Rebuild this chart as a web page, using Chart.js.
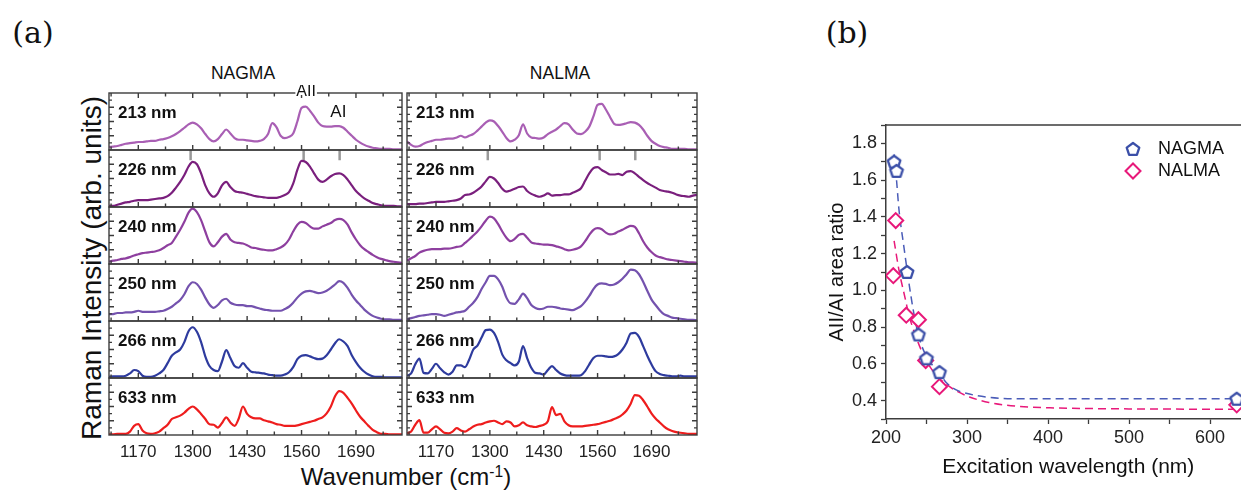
<!DOCTYPE html>
<html>
<head>
<meta charset="utf-8">
<script src="https://cdn.jsdelivr.net/npm/chart.js@4.4.1/dist/chart.umd.min.js"></script>
<style>
  html, body { margin: 0; padding: 0; background: #fff; overflow: hidden; width: 1241px; height: 491px; }
  body { position: relative; font-family: "Liberation Sans", Arial, sans-serif; color: #111; }
  canvas { position: absolute; }
  .txt { position: absolute; white-space: nowrap; line-height: 1; transform: translate(-50%, -50%); }
  .tag { font-family: "DejaVu Serif", serif; font-size: 30px; }
  .col { font-size: 17.5px; }
</style>
</head>
<body>
<div class="txt tag" style="left:33px; top:33px">(a)</div>
<div class="txt tag" style="left:847px; top:33px">(b)</div>
<div class="txt col" style="left:243px; top:74px">NAGMA</div>
<div class="txt col" style="left:560px; top:74px">NALMA</div>
<div class="txt" style="left:92px; top:268px; font-size:28px; transform:translate(-50%,-50%) rotate(-90deg)">Raman Intensity (arb. units)</div>
<div class="txt" style="left:406px; top:477px; font-size:24px">Wavenumber (cm<span style="font-size:0.65em; position:relative; top:-0.5em">-1</span>)</div>

<canvas id="chartNagma" width="310" height="390" style="left:100px; top:85px"></canvas>
<canvas id="chartNalma" width="310" height="390" style="left:400px; top:85px"></canvas>
<canvas id="chartRatio" width="470" height="391" style="left:790px; top:100px"></canvas>

<script>
const FONT = '"Liberation Sans", Arial, sans-serif'
const FRAME_COLOR = '#3c3c3c'

// panel (a): Raman spectra, one value per wavenumber, 0-100 inside each strip
const WAVENUMBER = [1100, 1110, 1120, 1130, 1140, 1150, 1160, 1170, 1180, 1190,
  1200, 1210, 1220, 1230, 1240, 1250, 1260, 1270, 1280, 1290,
  1300, 1310, 1320, 1330, 1340, 1350, 1360, 1370, 1380, 1390,
  1400, 1410, 1420, 1430, 1440, 1450, 1460, 1470, 1480, 1490,
  1500, 1510, 1520, 1530, 1540, 1550, 1560, 1570, 1580, 1590,
  1600, 1610, 1620, 1630, 1640, 1650, 1660, 1670, 1680, 1690,
  1700, 1710, 1720, 1730, 1740, 1750, 1760, 1770, 1780, 1790, 1800]
const X_TICKS = [1170, 1300, 1430, 1560, 1690]
const X_MINOR_TICKS = [1105, 1235, 1365, 1495, 1625, 1755]
const EXCITATION = ['213 nm', '226 nm', '240 nm', '250 nm', '266 nm', '633 nm']
const SPECTRUM_COLORS = ['#a95fb4', '#7a1f7d', '#8e3f9f', '#7452ae', '#2e3b9e', '#ee1d1d']
const PEAK_MARKS = [1295, 1565, 1651]

const nagma213 = [5, 6, 7, 9, 11, 12, 13, 14, 14, 15,
  16, 16, 18, 19, 21, 24, 28, 33, 39, 45,
  48, 45, 38, 28, 19, 15, 19, 28, 36, 29,
  21, 18, 18, 17, 16, 15, 16, 19, 28, 47,
  40, 25, 21, 23, 29, 50, 74, 76, 69, 59,
  48, 42, 41, 41, 42, 42, 39, 32, 25, 18,
  13, 9, 6, 4, 3, 2, 2, 2, 1, 1, 1]
const nagma226 = [2, 2, 4, 6, 8, 9, 11, 12, 12, 12,
  13, 14, 15, 16, 19, 25, 34, 44, 56, 71,
  79, 75, 59, 38, 24, 18, 24, 38, 44, 35,
  28, 26, 25, 23, 21, 19, 18, 17, 16, 16,
  16, 18, 21, 26, 41, 65, 81, 79, 71, 59,
  48, 44, 48, 54, 58, 59, 56, 48, 38, 28,
  21, 15, 11, 7, 5, 3, 2, 2, 2, 1, 1]
const nagma240 = [4, 6, 7, 9, 10, 12, 15, 17, 19, 20,
  21, 22, 24, 28, 33, 37, 48, 60, 74, 90,
  97, 91, 77, 57, 38, 31, 38, 48, 53, 43,
  38, 37, 36, 33, 29, 28, 26, 25, 24, 24,
  26, 29, 34, 43, 57, 69, 74, 72, 66, 62,
  62, 66, 69, 72, 77, 79, 77, 69, 55, 43,
  33, 26, 21, 16, 12, 9, 7, 5, 4, 3, 2]
const nagma250 = [12, 12, 14, 14, 15, 15, 16, 18, 16, 16,
  16, 16, 17, 18, 21, 25, 31, 37, 47, 61,
  68, 65, 55, 41, 29, 23, 28, 36, 39, 32,
  29, 28, 28, 26, 26, 24, 22, 20, 19, 18,
  18, 18, 21, 25, 32, 41, 48, 52, 53, 51,
  49, 50, 53, 58, 64, 70, 67, 58, 46, 36,
  28, 20, 14, 9, 6, 4, 3, 3, 2, 2, 2]
const nagma266 = [2, 3, 3, 3, 4, 8, 14, 12, 4, 2,
  2, 4, 8, 14, 26, 39, 45, 50, 63, 82,
  89, 81, 63, 38, 21, 14, 12, 29, 49, 35,
  21, 18, 26, 18, 11, 10, 9, 8, 6, 5,
  4, 4, 6, 10, 19, 33, 39, 40, 38, 35,
  33, 34, 40, 50, 61, 68, 64, 56, 40, 28,
  18, 11, 6, 3, 2, 2, 1, 1, 1, 1, 1]
const nagma633 = [1, 1, 2, 2, 2, 6, 16, 19, 8, 3,
  2, 3, 6, 12, 18, 28, 31, 34, 39, 46,
  50, 45, 37, 28, 19, 18, 13, 21, 31, 22,
  16, 29, 50, 37, 31, 29, 29, 26, 24, 22,
  19, 18, 16, 16, 16, 17, 19, 21, 23, 25,
  28, 31, 38, 50, 68, 77, 74, 65, 55, 43,
  32, 24, 16, 9, 5, 2, 2, 1, 1, 1, 1]

const nalma213 = [15, 9, 6, 7, 11, 14, 16, 18, 18, 19,
  20, 20, 22, 25, 22, 25, 28, 34, 41, 48,
  52, 50, 42, 32, 21, 15, 18, 26, 45, 29,
  22, 21, 20, 22, 28, 32, 36, 42, 47, 45,
  36, 29, 28, 32, 41, 59, 79, 81, 71, 58,
  46, 44, 45, 47, 49, 48, 44, 36, 25, 16,
  11, 7, 5, 4, 2, 2, 2, 2, 1, 1, 1]
const nalma226 = [5, 5, 5, 6, 6, 7, 8, 9, 9, 9,
  10, 11, 12, 15, 21, 22, 25, 30, 36, 45,
  53, 50, 42, 32, 27, 29, 32, 35, 36, 28,
  23, 20, 18, 20, 24, 20, 21, 21, 22, 22,
  25, 28, 33, 46, 59, 68, 70, 65, 61, 57,
  57, 58, 56, 62, 63, 59, 53, 47, 42, 38,
  34, 30, 28, 27, 25, 22, 20, 19, 18, 20, 21]
const nalma240 = [6, 10, 14, 20, 23, 25, 26, 26, 26, 27,
  27, 28, 30, 31, 37, 43, 50, 57, 66, 76,
  83, 80, 70, 57, 46, 40, 44, 51, 53, 46,
  38, 36, 35, 34, 34, 33, 31, 29, 26, 24,
  25, 27, 31, 40, 51, 60, 63, 61, 55, 52,
  53, 57, 60, 64, 67, 65, 54, 40, 29, 21,
  15, 12, 10, 8, 7, 6, 5, 4, 3, 3, 2]
const nalma250 = [3, 5, 7, 9, 10, 11, 12, 12, 11, 9,
  11, 13, 15, 16, 18, 25, 32, 42, 56, 68,
  79, 79, 73, 60, 41, 31, 30, 38, 48, 40,
  28, 23, 21, 22, 25, 25, 24, 22, 21, 20,
  19, 22, 26, 34, 44, 56, 64, 66, 65, 63,
  64, 68, 74, 82, 90, 89, 82, 69, 53, 38,
  28, 19, 12, 9, 6, 5, 4, 3, 2, 2, 1]
const nalma266 = [4, 8, 24, 34, 9, 8, 16, 25, 17, 10,
  6, 11, 22, 22, 19, 32, 50, 57, 71, 84,
  85, 79, 63, 41, 31, 26, 22, 29, 56, 35,
  18, 9, 8, 6, 14, 21, 14, 8, 5, 4,
  4, 4, 5, 12, 24, 35, 39, 39, 38, 37,
  38, 42, 50, 62, 78, 79, 72, 56, 39, 24,
  12, 7, 5, 4, 3, 3, 4, 3, 3, 3, 3]
const nalma633 = [3, 6, 18, 26, 4, 4, 10, 15, 10, 4,
  3, 6, 12, 8, 6, 10, 15, 18, 19, 22,
  24, 25, 22, 19, 24, 22, 15, 17, 22, 17,
  15, 14, 16, 18, 24, 49, 35, 37, 24, 17,
  15, 15, 15, 16, 17, 18, 19, 21, 23, 25,
  28, 31, 36, 43, 55, 70, 69, 61, 50, 38,
  29, 22, 15, 10, 7, 5, 4, 3, 2, 2, 2]

// panel (b): AII/AI area ratio
const WAVELENGTH_NAGMA = [210, 213, 226, 240, 250, 266, 633]
const RATIO_NAGMA = [1.70, 1.65, 1.10, 0.76, 0.63, 0.555, 0.41]
const WAVELENGTH_NALMA = [209, 212, 225, 240, 249, 266, 633]
const RATIO_NALMA = [1.08, 1.38, 0.865, 0.84, 0.618, 0.476, 0.377]
const FIT_X_NAGMA = [210, 213, 216, 222, 229, 235, 241, 250, 258, 266, 274, 286, 299, 323, 360, 450, 650]
const FIT_Y_NAGMA = [1.74, 1.60, 1.44, 1.24, 1.02, 0.86, 0.74, 0.64, 0.59, 0.55, 0.50, 0.46, 0.44, 0.42, 0.41, 0.41, 0.41]
const FIT_X_NALMA = [210, 216, 224, 228, 236, 245, 255, 266, 274, 288, 303, 327, 360, 411, 500, 650]
const FIT_Y_NALMA = [1.27, 1.11, 0.95, 0.87, 0.76, 0.66, 0.58, 0.52, 0.49, 0.45, 0.42, 0.39, 0.37, 0.36, 0.355, 0.353]

const BLUE = '#3b4fa8'
const PINK = '#e8197a'

Chart.defaults.font.family = FONT
Chart.defaults.color = '#222'

const toPoints = (xs, ys) => xs.map((x, i) => ({x: x, y: ys[i]}))
const PANEL_IDS = ['p0', 'p1', 'p2', 'p3', 'p4', 'p5']

// frame, inward ticks and strip labels for the stacked spectra
const spectraFrame = {
  id: 'spectraFrame',
  afterDatasetsDraw(chart, args, opts) {
    const ctx = chart.ctx
    const left = chart.chartArea.left
    const right = chart.chartArea.right
    const xs = chart.scales.x
    ctx.save()
    ctx.strokeStyle = FRAME_COLOR
    ctx.lineWidth = 1.4
    PANEL_IDS.forEach((id, i) => {
      const s = chart.scales[id]
      ctx.strokeRect(left, s.top, right - left, s.bottom - s.top)
      ctx.beginPath()
      s.ticks.forEach((t, k) => {
        if (k === 0 || k === s.ticks.length - 1) return
        const y = s.getPixelForValue(t.value)
        const len = k % 2 === 0 ? 5 : 3
        ctx.moveTo(left, y); ctx.lineTo(left + len, y)
        ctx.moveTo(right, y); ctx.lineTo(right - len, y)
      })
      X_TICKS.forEach(v => {
        const x = xs.getPixelForValue(v)
        ctx.moveTo(x, s.bottom); ctx.lineTo(x, s.bottom - 5)
        if (i === 0) { ctx.moveTo(x, s.top); ctx.lineTo(x, s.top + 5) }
      })
      X_MINOR_TICKS.forEach(v => {
        const x = xs.getPixelForValue(v)
        ctx.moveTo(x, s.bottom); ctx.lineTo(x, s.bottom - 3.5)
        if (i === 0) { ctx.moveTo(x, s.top); ctx.lineTo(x, s.top + 3.5) }
      })
      ctx.stroke()
      ctx.fillStyle = '#111'
      ctx.font = 'bold 17px ' + FONT
      ctx.textAlign = 'left'
      ctx.textBaseline = 'middle'
      ctx.fillText(EXCITATION[i], left + 9, s.top + 20.5)
    })
    if (opts.peakLabels) {
      const top = chart.scales.p0.top
      const xa = xs.getPixelForValue(1571)
      ctx.font = '16px ' + FONT
      const w = ctx.measureText('AII').width
      ctx.fillStyle = '#fff'
      ctx.fillRect(xa - w / 2 - 1, top - 2, w + 2, 4)
      ctx.fillStyle = '#111'
      ctx.textAlign = 'center'
      ctx.textBaseline = 'alphabetic'
      ctx.fillText('AII', xa, top + 2.5)
      ctx.font = '17px ' + FONT
      ctx.textBaseline = 'middle'
      ctx.fillText('AI', xs.getPixelForValue(1648), top + 19.5)
    }
    ctx.restore()
  }
}

function spectraChart(canvasId, series, padLeft, padRight, peakLabels) {
  const datasets = series.map((values, i) => ({
    data: toPoints(WAVENUMBER, values),
    yAxisID: PANEL_IDS[i],
    borderColor: SPECTRUM_COLORS[i],
    borderWidth: 2.2,
    pointRadius: 0,
    cubicInterpolationMode: 'monotone'
  }))
  PEAK_MARKS.forEach(x => {
    datasets.push({
      data: [{x: x, y: 100}, {x: x, y: 82}],
      yAxisID: 'p1',
      borderColor: '#999',
      borderWidth: 2.5,
      pointRadius: 0
    })
  })
  const scales = {
    x: {
      type: 'linear',
      min: 1100,
      max: 1800,
      afterBuildTicks: s => { s.ticks = X_TICKS.map(v => ({value: v})) },
      afterFit: s => { s.height = 40 },
      grid: {display: false, drawTicks: false},
      border: {display: false},
      ticks: {font: {size: 17}, color: '#222', padding: 7, maxRotation: 0, callback: v => String(v)}
    }
  }
  PANEL_IDS.forEach((id, i) => {
    scales[id] = {
      type: 'linear',
      position: 'left',
      stack: 'strips',
      stackWeight: 1,
      weight: 6 - i,
      offset: false,
      min: 0,
      max: 100,
      afterFit: s => { s.width = 0 },
      grid: {display: false, drawTicks: false},
      border: {display: false},
      ticks: {display: false, stepSize: 12.5}
    }
  })
  return new Chart(document.getElementById(canvasId), {
    type: 'line',
    data: {datasets: datasets},
    options: {
      responsive: false,
      animation: false,
      devicePixelRatio: 1,
      events: [],
      layout: {padding: {left: padLeft, right: padRight, top: 8, bottom: 0}},
      scales: scales,
      plugins: {legend: {display: false}, tooltip: {enabled: false}, spectraFrame: {peakLabels: peakLabels}}
    },
    plugins: [spectraFrame]
  })
}

spectraChart('chartNagma', [nagma213, nagma226, nagma240, nagma250, nagma266, nagma633], 9, 8, true)
spectraChart('chartNalma', [nalma213, nalma226, nalma240, nalma250, nalma266, nalma633], 7, 13, false)

// hollow pentagon marker
function makePentagon(color) {
  const c = document.createElement('canvas')
  c.width = 18
  c.height = 18
  const g = c.getContext('2d')
  g.beginPath()
  for (let k = 0; k < 5; k++) {
    const a = -Math.PI / 2 + k * 2 * Math.PI / 5
    const px = 9 + 6.6 * Math.cos(a)
    const py = 9.6 + 6.6 * Math.sin(a)
    if (k === 0) g.moveTo(px, py); else g.lineTo(px, py)
  }
  g.closePath()
  g.fillStyle = '#fff'
  g.fill()
  g.lineWidth = 2.3
  g.lineJoin = 'round'
  g.strokeStyle = color
  g.stroke()
  return c
}
const pentagon = makePentagon(BLUE)

const ratioDecor = {
  id: 'ratioDecor',
  afterDraw(chart) {
    const ctx = chart.ctx
    const area = chart.chartArea
    ctx.save()
    ctx.strokeStyle = FRAME_COLOR
    ctx.lineWidth = 1.5
    ctx.beginPath()
    ctx.moveTo(area.left, area.top); ctx.lineTo(area.right, area.top); ctx.lineTo(area.right, area.bottom)
    ctx.stroke()
    ctx.font = '18px ' + FONT
    ctx.textAlign = 'left'
    ctx.textBaseline = 'middle'
    chart.data.datasets.slice(0, 2).forEach((ds, i) => {
      const x = area.left + 247
      const y = area.top + 24 + i * 22
      ctx.fillStyle = '#fff'
      ctx.strokeStyle = ds.borderColor
      ctx.lineWidth = 2
      Chart.helpers.drawPoint(ctx, {pointStyle: ds.pointStyle, radius: ds.pointRadius, borderWidth: 2, rotation: 0}, x, y)
      ctx.fillStyle = '#111'
      ctx.fillText(ds.label, x + 25, y)
    })
    ctx.restore()
  }
}

new Chart(document.getElementById('chartRatio'), {
  type: 'scatter',
  data: {
    datasets: [
      {label: 'NAGMA', data: toPoints(WAVELENGTH_NAGMA, RATIO_NAGMA), pointStyle: pentagon, pointRadius: 7,
        borderColor: BLUE, backgroundColor: '#fff'},
      {label: 'NALMA', data: toPoints(WAVELENGTH_NALMA, RATIO_NALMA), pointStyle: 'rectRot', pointRadius: 7.5,
        borderColor: PINK, backgroundColor: '#fff', pointBorderWidth: 2},
      {label: 'fit NAGMA', data: toPoints(FIT_X_NAGMA, FIT_Y_NAGMA), showLine: true, pointRadius: 0,
        borderColor: '#4a5cb8', borderWidth: 1.5, borderDash: [8, 5], cubicInterpolationMode: 'monotone'},
      {label: 'fit NALMA', data: toPoints(FIT_X_NALMA, FIT_Y_NALMA), showLine: true, pointRadius: 0,
        borderColor: PINK, borderWidth: 1.5, borderDash: [8, 5], cubicInterpolationMode: 'monotone'}
    ]
  },
  options: {
    responsive: false,
    animation: false,
    devicePixelRatio: 1,
    events: [],
    layout: {padding: {left: 0, right: 8, top: 25, bottom: 0}},
    scales: {
      x: {
        min: 200,
        max: 650,
        afterFit: s => { s.height = 72 },
        grid: {drawOnChartArea: false, tickLength: 5, color: FRAME_COLOR, tickWidth: 1.3},
        border: {color: FRAME_COLOR, width: 1.5},
        ticks: {stepSize: 50, autoSkip: false, maxRotation: 0, padding: 3, font: {size: 18}, color: '#222',
          callback: v => v % 100 === 0 ? String(v) : ''},
        title: {display: true, text: 'Excitation wavelength (nm)', font: {size: 21}, color: '#111', padding: {top: 0, bottom: 11}}
      },
      y: {
        min: 0.3,
        max: 1.9,
        afterFit: s => { s.width = 96 },
        grid: {drawOnChartArea: false, tickLength: 5, color: FRAME_COLOR, tickWidth: 1.3},
        border: {color: FRAME_COLOR, width: 1.5},
        ticks: {stepSize: 0.1, autoSkip: false, padding: 4, font: {size: 18}, color: '#222',
          callback: v => Math.round(v * 10) % 2 === 0 ? v.toFixed(1) : ''},
        title: {display: true, text: 'AII/AI area ratio', font: {size: 20}, color: '#111', padding: {top: 35, bottom: 0}}
      }
    },
    plugins: {legend: {display: false}, tooltip: {enabled: false}}
  },
  plugins: [ratioDecor]
})
</script>
</body>
</html>
